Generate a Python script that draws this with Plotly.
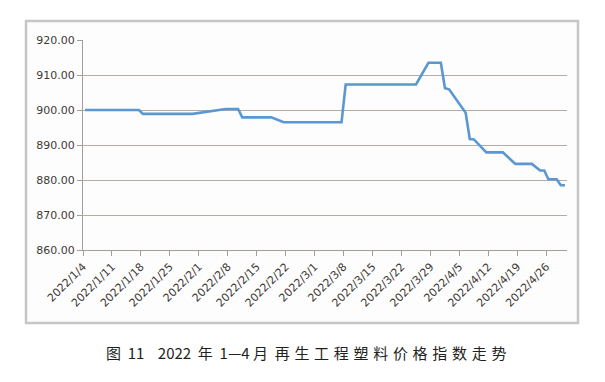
import pandas as pd
import plotly.graph_objects as go

dates = ["2022-01-04", "2022-01-17", "2022-01-18", "2022-01-30", "2022-02-07",
         "2022-02-10", "2022-02-11", "2022-02-18", "2022-02-21", "2022-03-07",
         "2022-03-08", "2022-03-25", "2022-03-28", "2022-03-31", "2022-04-01",
         "2022-04-02", "2022-04-06", "2022-04-07", "2022-04-08", "2022-04-11",
         "2022-04-15", "2022-04-18", "2022-04-22", "2022-04-24", "2022-04-25",
         "2022-04-26", "2022-04-28", "2022-04-29", "2022-04-30"]
values = [900.0, 900.0, 898.9, 898.9, 900.3,
          900.3, 897.9, 897.9, 896.5, 896.5,
          907.3, 907.3, 913.5, 913.5, 906.2,
          905.9, 899.2, 891.7, 891.6, 887.9,
          887.9, 884.6, 884.6, 882.7, 882.7,
          880.2, 880.2, 878.5, 878.5]

y_range = [860, 920]
y_step = 10
x_range = ["2022-01-04", "2022-05-01"]
x_tick0 = "2022-01-04"
NB = "\u00a0"
caption_head = ("图" + NB * 2 + "11" + NB * 4 + "2022" + NB * 2 + "年" + NB * 2
                + "1—4" + NB + "月" + NB * 2)
caption_tail = "再生工程塑料价格指数走势"

# Excel date axis puts each daily point in the middle of its day
x = pd.to_datetime(dates) + pd.Timedelta(hours=12)

fig = go.Figure()
fig.add_trace(go.Scatter(
    x=x, y=values, mode="lines",
    line=dict(color="#5b97d1", width=2.6),
    hoverinfo="skip", showlegend=False,
))

L, R, T, B = 83, 38, 40, 132
W, H = 605, 382
pw, ph = W - L - R, H - T - B

def px_x(p):
    return (p - L) / pw

def px_y(p):
    return (H - B - p) / ph

fig.add_shape(type="rect", xref="paper", yref="paper",
              x0=px_x(26), x1=px_x(578), y0=px_y(323), y1=px_y(21),
              line=dict(color="#c6c6c6", width=2.5),
              fillcolor="#fdfdfd", layer="below")

fig.add_annotation(
    xref="paper", yref="paper", x=px_x(308), y=px_y(352),
    xanchor="center", yanchor="middle", showarrow=False,
    text=caption_head + '<span style="letter-spacing:4.7px">' + caption_tail + '</span>',
    font=dict(family="Noto Sans CJK SC", size=15, color="#231f20"),
)

tickfont = dict(family="DejaVu Sans", size=11, color="#3f3a36")

fig.update_xaxes(
    type="date", range=x_range, tick0=x_tick0, dtick=7 * 86400000,
    tickformat="%Y/%-m/%-d", tickangle=-45, tickfont=tickfont,
    showgrid=False, showline=True, linecolor="#a59d97", linewidth=1,
    ticks="outside", ticklen=5, tickcolor="#a59d97", zeroline=False,
    automargin=False,
)
fig.update_yaxes(
    range=y_range, dtick=y_step, tick0=860, tickformat=".2f", tickfont=tickfont,
    showgrid=True, gridcolor="#b3aba5", gridwidth=1,
    showline=True, linecolor="#a59d97", linewidth=1,
    ticks="outside", ticklen=5, tickcolor="#a59d97", zeroline=False,
    automargin=False,
)

fig.update_layout(
    width=W, height=H,
    margin=dict(l=L, r=R, t=T, b=B, autoexpand=False),
    paper_bgcolor="white", plot_bgcolor="#fcfcfc",
    showlegend=False,
)

fig.write_html("out.html", config={"displayModeBar": False},
               post_script="document.body.style.margin='0';")
